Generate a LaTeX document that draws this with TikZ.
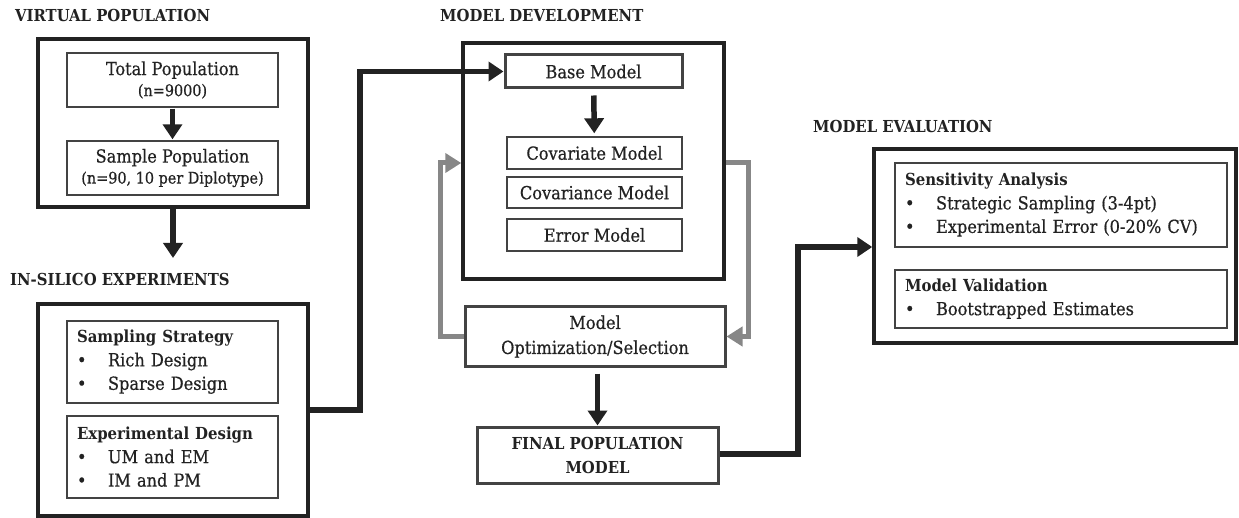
\documentclass[tikz,border=0pt]{standalone}
\usepackage{fontspec}
\setmainfont{DejaVu Serif Condensed}[UprightFeatures={FakeBold=0.6}]
\usetikzlibrary{arrows.meta}

\definecolor{ink}{HTML}{222222}
\definecolor{loopgray}{HTML}{878787}
\newcommand{\bul}{\makebox[31pt][l]{\textbullet}}
\newcommand{\subline}[1]{{\fontsize{16}{20}\selectfont #1}}
\newcommand{\listhead}[1]{{\bfseries\fontsize{16.6}{20}\selectfont #1}}

\tikzset{
  outerbox/.style={draw=ink, line width=3.5pt, inner sep=0pt},
  innerbox/.style={draw=ink!85, line width=1.4pt, inner sep=0pt, align=center,
    text=ink, font=\fontsize{18}{21}\selectfont},
  keybox/.style={innerbox, line width=3pt},
  listbox/.style={innerbox, align=left, inner xsep=10pt, text width=#1,
    font=\fontsize{18}{23.5}\selectfont},
  heading/.style={anchor=west, inner sep=0pt, text=ink,
    font=\bfseries\fontsize{16.5}{18}\selectfont},
  flow/.style={draw=ink, line width=5.5pt, -{Triangle[length=15pt,width=19pt]}},
  loop/.style={draw=loopgray, line width=5pt, -{Triangle[length=16pt,width=19pt]}}
}

\begin{document}
\begin{tikzpicture}[x=1pt,y=-1pt]
\useasboundingbox (0,0) rectangle (1239,518);

\node[heading] (vphead) at (15,15) {VIRTUAL POPULATION};
\node[outerbox, minimum width=270pt, minimum height=168pt] (vp) at (173,123) {};
\node[innerbox, minimum width=211pt, minimum height=54pt] (total) at (172.5,80)
  {Total Population\\ \subline{(n=9000)}};
\node[innerbox, minimum width=211pt, minimum height=54pt] (sample) at (172.5,168)
  {Sample Population\\ \subline{(n=90, 10 per Diplotype)}};
\draw[flow, shorten <=1pt, shorten >=1pt] (total) -- (sample);
\coordinate (vpend) at (173,258);
\draw[flow] (vp) -- (vpend);

\node[heading] (isehead) at (10,279) {IN-SILICO EXPERIMENTS};
\node[outerbox, minimum width=270pt, minimum height=212pt] (ise) at (173,410) {};
\node[listbox=191pt, minimum width=211pt, minimum height=82pt] (sampling) at (172.5,362)
  {\listhead{Sampling Strategy}\\ \bul Rich Design\\ \bul Sparse Design};
\node[listbox=191pt, minimum width=211pt, minimum height=82pt] (expdesign) at (172.5,457)
  {\listhead{Experimental Design}\\ \bul UM and EM\\ \bul IM and PM};

\node[heading] (mdhead) at (440,15) {MODEL DEVELOPMENT};
\node[outerbox, minimum width=261pt, minimum height=236pt] (md) at (593.5,161) {};
\node[keybox, minimum width=177pt, minimum height=33pt] (base) at (593.5,71.5) {Base Model};
\node[innerbox, minimum width=175pt, minimum height=32pt] (covariate) at (594.5,153) {Covariate Model};
\node[innerbox, minimum width=175pt, minimum height=31pt] (covariance) at (594.5,192.5) {Covariance Model};
\node[innerbox, minimum width=175pt, minimum height=32pt] (error) at (594.5,235) {Error Model};
\draw[flow, shorten <=6pt, shorten >=3pt] (base) -- (covariate);
\draw[flow] (ise.east |- 0,410) -| (360,71.5) -- (base);

\node[keybox, minimum width=260pt, minimum height=59pt, font=\fontsize{18}{25}\selectfont]
  (optim) at (595,336.5) {Model\\ Optimization/Selection};
\draw[loop] (optim.west) -| (440,163) -- (md.west |- 0,163);
\draw[loop] (md.east |- 0,163) -| (748,336.5) -- (optim.east);

\node[keybox, minimum width=241pt, minimum height=56pt, font=\bfseries\fontsize{16.5}{24}\selectfont]
  (final) at (597.5,455) {FINAL POPULATION\\ MODEL};
\draw[flow, shorten <=6pt] (optim.south -| final) -- (final);

\node[heading] (mehead) at (813,126) {MODEL EVALUATION};
\node[outerbox, minimum width=362pt, minimum height=194pt] (me) at (1055,246) {};
\node[listbox=312pt, minimum width=332pt, minimum height=84pt] (sens) at (1061,205)
  {\listhead{Sensitivity Analysis}\\ \bul Strategic Sampling (3-4pt)\\ \bul Experimental Error (0-20\% CV)};
\node[listbox=312pt, minimum width=332pt, minimum height=58pt] (valid) at (1061,299)
  {\listhead{Model Validation}\\ \bul Bootstrapped Estimates};
\draw[flow] (final.east |- 0,454) -| (798,247) -- (me.west |- 0,247);
\end{tikzpicture}
\end{document}
